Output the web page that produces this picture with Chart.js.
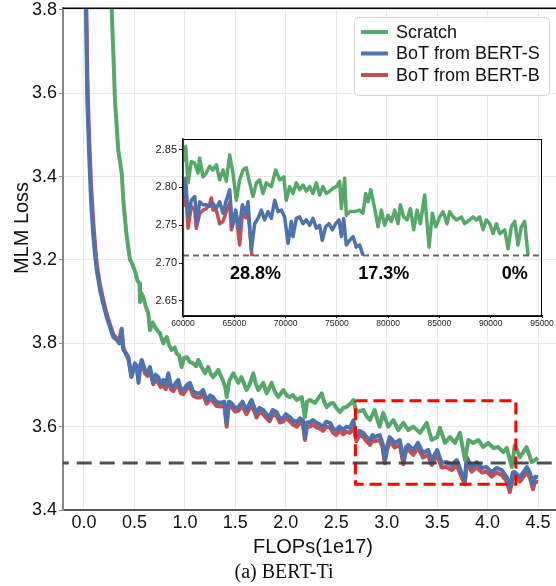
<!DOCTYPE html>
<html>
<head>
<meta charset="utf-8">
<script src="https://cdn.jsdelivr.net/npm/chart.js@4.4.1/dist/chart.umd.min.js"></script>
<style>
  html, body { margin: 0; padding: 0; background: #fff; }
  #wrap { position: relative; width: 556px; height: 586px; }
  #mainChart { position: absolute; left: 0; top: 0; }
  #insetChart { position: absolute; left: 130px; top: 132px; }
</style>
</head>
<body>
<div id="wrap">
  <canvas id="mainChart" width="556" height="586"></canvas>
  <canvas id="insetChart" width="426" height="198"></canvas>
</div>
<script>
const seriesNames = ['Scratch', 'BoT from BERT-S', 'BoT from BERT-B'];
const seriesColors = ['#55a868', '#4c72b0', '#c44e52'];

// main panel: FLOPs (1e17) vs MLM loss (axis units, labels below)
const flopsScratch = [0.26, 0.274, 0.29, 0.307, 0.34, 0.374, 0.39, 0.42, 0.456, 0.47,
  0.49, 0.51, 0.53, 0.55, 0.555, 0.57, 0.588, 0.61, 0.637, 0.654,
  0.68, 0.704, 0.73, 0.753, 0.786, 0.82, 0.845, 0.869, 0.9, 0.918,
  0.945, 0.968, 0.99, 1.018, 1.05, 1.083, 1.11, 1.133, 1.16, 1.2,
  1.23, 1.26, 1.28, 1.33, 1.37, 1.4, 1.414, 1.44, 1.48, 1.53,
  1.56, 1.61, 1.64, 1.678, 1.7, 1.727, 1.777, 1.81, 1.86, 1.89,
  1.925, 1.975, 2.01, 2.04, 2.07, 2.108, 2.158, 2.19, 2.21, 2.24,
  2.29, 2.356, 2.38, 2.405, 2.44, 2.47, 2.5, 2.537, 2.57, 2.6,
  2.65, 2.67, 2.7, 2.77, 2.8, 2.834, 2.88, 2.9, 2.93, 2.966,
  3.016, 3.066, 3.115, 3.165, 3.214, 3.264, 3.33, 3.397, 3.446, 3.5,
  3.528, 3.578, 3.627, 3.677, 3.726, 3.776, 3.81, 3.858, 3.908, 3.957,
  4.007, 4.056, 4.106, 4.156, 4.19, 4.24, 4.27, 4.32, 4.387, 4.437,
  4.47, 4.5];
const lossScratch = [4.70, 4.604, 4.503, 4.383, 4.263, 4.208, 4.143, 4.064, 4.0, 3.995,
  3.983, 3.97, 3.95, 3.944, 3.899, 3.92, 3.911, 3.89, 3.872, 3.832,
  3.85, 3.839, 3.83, 3.824, 3.8, 3.815, 3.795, 3.784, 3.79, 3.776,
  3.77, 3.743, 3.765, 3.767, 3.755, 3.752, 3.745, 3.76, 3.745, 3.728,
  3.743, 3.725, 3.719, 3.736, 3.715, 3.695, 3.671, 3.71, 3.728, 3.705,
  3.719, 3.688, 3.70, 3.728, 3.705, 3.688, 3.705, 3.68, 3.705, 3.685,
  3.671, 3.688, 3.675, 3.671, 3.676, 3.664, 3.671, 3.623, 3.66, 3.664,
  3.657, 3.68, 3.66, 3.647, 3.655, 3.657, 3.645, 3.635, 3.645, 3.647,
  3.657, 3.664, 3.635, 3.64, 3.625, 3.616, 3.64, 3.623, 3.60, 3.633,
  3.60, 3.616, 3.592, 3.609, 3.592, 3.60, 3.585, 3.609, 3.568, 3.575,
  3.597, 3.561, 3.575, 3.561, 3.585, 3.52, 3.568, 3.561, 3.568, 3.551,
  3.561, 3.549, 3.551, 3.539, 3.549, 3.503, 3.556, 3.527, 3.551, 3.515,
  3.52, 3.525];

const flopsBot = [0.015, 0.02, 0.033, 0.05, 0.07, 0.092, 0.11, 0.126, 0.159, 0.19,
  0.225, 0.258, 0.29, 0.324, 0.35, 0.373, 0.39, 0.42, 0.44, 0.47,
  0.505, 0.525, 0.54, 0.555, 0.572, 0.605, 0.63, 0.654, 0.687, 0.71,
  0.736, 0.76, 0.786, 0.81, 0.836, 0.86, 0.885, 0.91, 0.935, 0.96,
  0.984, 1.02, 1.05, 1.08, 1.117, 1.15, 1.18, 1.216, 1.25, 1.28,
  1.31, 1.35, 1.39, 1.414, 1.435, 1.46, 1.5, 1.53, 1.57, 1.61,
  1.66, 1.69, 1.71, 1.74, 1.777, 1.81, 1.84, 1.87, 1.91, 1.94,
  1.975, 2.0, 2.04, 2.07, 2.108, 2.14, 2.17, 2.19, 2.21, 2.24,
  2.27, 2.306, 2.34, 2.37, 2.4, 2.44, 2.47, 2.5, 2.53, 2.57,
  2.6, 2.636, 2.67, 2.7, 2.73, 2.77, 2.8, 2.834, 2.86, 2.88,
  2.93, 2.96, 2.98, 3.0, 3.03, 3.08, 3.13, 3.165, 3.19, 3.214,
  3.264, 3.31, 3.36, 3.41, 3.446, 3.5, 3.545, 3.594, 3.644, 3.694,
  3.743, 3.775, 3.793, 3.842, 3.892, 3.942, 3.99, 4.04, 4.09, 4.14,
  4.19, 4.22, 4.25, 4.27, 4.32, 4.37, 4.39, 4.42, 4.45, 4.47, 4.5];
const lossBotS = [4.70, 4.60, 4.38, 4.26, 4.14, 4.06, 4.01, 3.976, 3.928, 3.896,
  3.863, 3.839, 3.815, 3.808, 3.80, 3.832, 3.784, 3.775, 3.767, 3.719,
  3.752, 3.745, 3.705, 3.745, 3.76, 3.736, 3.73, 3.743, 3.705, 3.725,
  3.719, 3.705, 3.712, 3.70, 3.728, 3.70, 3.695, 3.705, 3.712, 3.69,
  3.688, 3.70, 3.705, 3.685, 3.68, 3.68, 3.688, 3.664, 3.675, 3.671,
  3.66, 3.657, 3.66, 3.609, 3.66, 3.657, 3.645, 3.647, 3.66, 3.64,
  3.664, 3.645, 3.633, 3.645, 3.64, 3.63, 3.623, 3.64, 3.635, 3.62,
  3.621, 3.63, 3.623, 3.615, 3.611, 3.62, 3.616, 3.575, 3.61, 3.611,
  3.616, 3.609, 3.605, 3.60, 3.612, 3.609, 3.595, 3.592, 3.60, 3.592,
  3.60, 3.597, 3.615, 3.575, 3.59, 3.585, 3.575, 3.568, 3.58, 3.575,
  3.58, 3.56, 3.52, 3.55, 3.575, 3.561, 3.568, 3.52, 3.55, 3.556,
  3.544, 3.561, 3.537, 3.544, 3.52, 3.544, 3.513, 3.515, 3.508, 3.52,
  3.489, 3.472, 3.527, 3.503, 3.515, 3.501, 3.503, 3.491, 3.501, 3.496,
  3.479, 3.455, 3.49, 3.491, 3.479, 3.496, 3.503, 3.489, 3.46, 3.48, 3.479];
const lossBotB = [4.75, 4.66, 4.44, 4.30, 4.18, 4.09, 4.035, 3.99, 3.94, 3.905,
  3.87, 3.845, 3.822, 3.812, 3.805, 3.835, 3.79, 3.772, 3.762, 3.722,
  3.745, 3.738, 3.712, 3.738, 3.752, 3.728, 3.722, 3.735, 3.702, 3.712,
  3.706, 3.695, 3.70, 3.69, 3.715, 3.69, 3.685, 3.695, 3.70, 3.68,
  3.678, 3.69, 3.695, 3.675, 3.67, 3.67, 3.678, 3.655, 3.665, 3.66,
  3.65, 3.648, 3.65, 3.60, 3.65, 3.648, 3.636, 3.638, 3.65, 3.63,
  3.652, 3.635, 3.622, 3.636, 3.63, 3.62, 3.613, 3.63, 3.625, 3.61,
  3.612, 3.62, 3.613, 3.605, 3.60, 3.61, 3.605, 3.568, 3.60, 3.60,
  3.606, 3.598, 3.595, 3.59, 3.60, 3.598, 3.585, 3.58, 3.59, 3.582,
  3.588, 3.585, 3.60, 3.565, 3.58, 3.575, 3.565, 3.556, 3.568, 3.565,
  3.568, 3.55, 3.512, 3.54, 3.565, 3.55, 3.556, 3.51, 3.54, 3.545,
  3.532, 3.55, 3.526, 3.532, 3.508, 3.532, 3.502, 3.503, 3.496, 3.508,
  3.478, 3.462, 3.515, 3.492, 3.503, 3.49, 3.492, 3.48, 3.49, 3.484,
  3.468, 3.443, 3.478, 3.48, 3.468, 3.484, 3.49, 3.477, 3.45, 3.468, 3.467];

const xTicks = [0, 0.5, 1, 1.5, 2, 2.5, 3, 3.5, 4, 4.5];
const yTickValues = [3.4, 3.6, 3.8, 4.0, 4.2, 4.4, 4.6];
const yTickLabels = ['3.4', '3.6', '3.8', '3.2', '3.4', '3.6', '3.8'];
const targetLoss = 3.513;
const boxFlops = [2.69, 4.28];
const boxLoss = [3.462, 3.662];

// inset: steps vs loss
const insetStepsScratch = [60000, 60260, 60490, 60810, 61140, 61460, 61620, 61950, 62270, 62600,
  62920, 63250, 63570, 63900, 64220, 64550, 64870, 65200, 65520, 65850,
  66170, 66500, 66830, 67150, 67470, 67800, 68120, 68610, 69030, 69430,
  69820, 70070, 70400, 70720, 71050, 71370, 71700, 72020, 72350, 72670,
  73000, 73320, 73650, 73970, 74300, 74620, 74950, 75270, 75440, 75760,
  75920, 76250, 76740, 77220, 77550, 77810, 78040, 78300, 78690, 79010,
  79340, 79660, 79990, 80310, 80640, 80960, 81190, 81520, 81840, 82170,
  82490, 82820, 83140, 83560, 83990, 84310, 84640, 85030, 85350, 85740,
  86000, 86330, 86650, 87140, 87460, 87950, 88280, 88600, 88930, 89250,
  89580, 89900, 90230, 90550, 90880, 91360, 91690, 92010, 92340, 92660,
  92990, 93310, 93640];
const insetLossScratch = [2.834, 2.854, 2.806, 2.834, 2.832, 2.819, 2.839, 2.814, 2.819, 2.828,
  2.823, 2.83, 2.81, 2.823, 2.808, 2.843, 2.819, 2.783, 2.81, 2.823,
  2.826, 2.806, 2.788, 2.806, 2.81, 2.792, 2.806, 2.801, 2.823, 2.81,
  2.814, 2.783, 2.801, 2.792, 2.806, 2.797, 2.803, 2.795, 2.801, 2.792,
  2.806, 2.79, 2.801, 2.792, 2.795, 2.799, 2.801, 2.808, 2.772, 2.812,
  2.763, 2.768, 2.768, 2.77, 2.766, 2.792, 2.781, 2.797, 2.772, 2.748,
  2.77, 2.75, 2.763, 2.755, 2.77, 2.752, 2.777, 2.761, 2.757, 2.772,
  2.744, 2.77, 2.752, 2.79, 2.721, 2.766, 2.748, 2.761, 2.768, 2.752,
  2.768, 2.761, 2.757, 2.761, 2.752, 2.757, 2.761, 2.757, 2.761, 2.744,
  2.757, 2.752, 2.739, 2.752, 2.739, 2.744, 2.719, 2.748, 2.755, 2.724,
  2.748, 2.755, 2.71];
const insetStepsBotS = [60000, 60260, 60490, 60810, 61140, 61370, 61620, 61950, 62270, 62600,
  62920, 63250, 63570, 63900, 64220, 64550, 64810, 65140, 65460, 65790,
  66110, 66340, 66660, 66990, 67310, 67640, 67960, 68290, 68610, 68940,
  69260, 69590, 69910, 70240, 70560, 70720, 71050, 71370, 71700, 72020,
  72350, 72670, 73000, 73320, 73580, 73910, 74230, 74560, 74880, 75210,
  75440, 75660, 75920, 76250, 76580, 76900, 77220, 77550];
const insetLossBotS = [2.786, 2.812, 2.761, 2.783, 2.788, 2.752, 2.781, 2.777, 2.777, 2.775,
  2.779, 2.772, 2.781, 2.766, 2.783, 2.797, 2.748, 2.77, 2.744, 2.777,
  2.766, 2.781, 2.717, 2.752, 2.759, 2.77, 2.757, 2.768, 2.759, 2.783,
  2.768, 2.77, 2.761, 2.726, 2.755, 2.735, 2.759, 2.761, 2.752, 2.757,
  2.75, 2.759, 2.746, 2.75, 2.73, 2.748, 2.752, 2.744, 2.752, 2.757,
  2.735, 2.759, 2.724, 2.73, 2.735, 2.721, 2.724, 2.71];
const insetStepsBotB = [60000, 60160, 60300, 60490, 60810, 61140, 61300, 61620, 61950, 62270,
  62600, 62760, 62920, 63250, 63570, 63900, 64220, 64550, 64720, 65140,
  65520, 65790, 66110, 66340, 66730];
const insetLossBotB = [2.776, 2.777, 2.79, 2.746, 2.775, 2.77, 2.746, 2.765, 2.77, 2.772,
  2.778, 2.786, 2.77, 2.77, 2.752, 2.755, 2.768, 2.78, 2.744, 2.768,
  2.724, 2.765, 2.76, 2.768, 2.709];

const insetXTicks = [60000, 65000, 70000, 75000, 80000, 85000, 90000, 95000];
const insetYTicks = [2.65, 2.70, 2.75, 2.80, 2.85];
const insetTarget = 2.71;
const savingLabels = ['28.8%', '17.3%', '0%'];
const savingSteps = [67060, 79570, 92340];
const savingLoss = 2.685;

const SANS = '"Liberation Sans", Arial, sans-serif';
const pts = (xs, ys) => xs.map((x, i) => ({ x: x, y: ys[i] }));

function roundRect(ctx, x, y, w, h, r) {
  ctx.beginPath();
  ctx.moveTo(x + r, y);
  ctx.lineTo(x + w - r, y);
  ctx.arcTo(x + w, y, x + w, y + r, r);
  ctx.lineTo(x + w, y + h - r);
  ctx.arcTo(x + w, y + h, x + w - r, y + h, r);
  ctx.lineTo(x + r, y + h);
  ctx.arcTo(x, y + h, x, y + h - r, r);
  ctx.lineTo(x, y + r);
  ctx.arcTo(x, y, x + r, y, r);
  ctx.closePath();
}

const mainExtras = {
  id: 'mainExtras',
  afterDraw(chart) {
    const ctx = chart.ctx, a = chart.chartArea;
    ctx.save();
    ctx.strokeStyle = '#000';
    ctx.lineWidth = 1.5;
    ctx.beginPath();
    ctx.moveTo(a.left, a.top);
    ctx.lineTo(a.right, a.top);
    ctx.stroke();

    ctx.fillStyle = '#111';
    ctx.textAlign = 'center';
    ctx.textBaseline = 'middle';
    ctx.font = '20px ' + SANS;
    ctx.fillText('FLOPs(1e17)', 313, 547);
    ctx.save();
    ctx.translate(22, 228);
    ctx.rotate(-Math.PI / 2);
    ctx.fillText('MLM Loss', 0, 0);
    ctx.restore();
    ctx.font = '20px "Liberation Serif", "Times New Roman", serif';
    ctx.fillText('(a) BERT-Ti', 284, 573);

    // legend
    roundRect(ctx, 354.5, 17.5, 195, 78, 4);
    ctx.fillStyle = 'rgba(255,255,255,0.9)';
    ctx.fill();
    ctx.strokeStyle = '#d4d4d4';
    ctx.lineWidth = 1;
    ctx.stroke();
    ctx.textAlign = 'left';
    ctx.font = '18px ' + SANS;
    seriesNames.forEach((name, i) => {
      const y = 32 + i * 21.5;
      ctx.strokeStyle = seriesColors[i];
      ctx.lineWidth = 4;
      ctx.beginPath();
      ctx.moveTo(361, y);
      ctx.lineTo(388, y);
      ctx.stroke();
      ctx.fillStyle = '#111';
      ctx.fillText(name, 396, y + 1);
    });
    ctx.restore();
  }
};

new Chart(document.getElementById('mainChart'), {
  type: 'line',
  data: {
    datasets: [
      { label: seriesNames[0], data: pts(flopsScratch, lossScratch), borderColor: seriesColors[0], borderWidth: 4, clip: 0 },
      { label: seriesNames[1], data: pts(flopsBot, lossBotS), borderColor: seriesColors[1], borderWidth: 4, clip: 0 },
      { label: seriesNames[2], data: pts(flopsBot, lossBotB), borderColor: seriesColors[2], borderWidth: 4, clip: 0 },
      { label: 'target', data: [{ x: -0.3, y: targetLoss }, { x: 4.8, y: targetLoss }],
        borderColor: 'rgba(60,60,60,0.9)', borderWidth: 3, borderDash: [15, 8], clip: 0, order: -1 },
      { label: 'zoom', data: [
          { x: boxFlops[0], y: boxLoss[1] }, { x: boxFlops[1], y: boxLoss[1] },
          { x: boxFlops[1], y: boxLoss[0] }, { x: boxFlops[0], y: boxLoss[0] },
          { x: boxFlops[0], y: boxLoss[1] }],
        borderColor: '#ff0000', borderWidth: 3, borderDash: [12, 6], order: -1 }
    ]
  },
  options: {
    responsive: false,
    animation: false,
    layout: { padding: { top: 8, left: 0, right: 0, bottom: 0 } },
    plugins: { legend: { display: false }, tooltip: { enabled: false } },
    elements: { point: { radius: 0 }, line: { tension: 0, borderJoinStyle: 'round' } },
    scales: {
      x: {
        type: 'linear', min: -0.208, max: 4.678,
        afterBuildTicks: s => { s.ticks = xTicks.map(v => ({ value: v })); },
        afterFit: s => { s.height = 76; },
        ticks: { callback: v => v.toFixed(1), font: { family: SANS, size: 18 }, color: '#111',
                 padding: 2, maxRotation: 0, autoSkip: false },
        grid: { color: '#e8e8e8', drawTicks: false },
        border: { color: '#555', width: 2 }
      },
      y: {
        type: 'linear', min: 3.4, max: 4.604,
        afterBuildTicks: s => { s.ticks = yTickValues.map(v => ({ value: v })); },
        afterFit: s => { s.width = 63; },
        ticks: { callback: (v, i) => yTickLabels[i], font: { family: SANS, size: 18, lineHeight: 0.7 },
                 color: '#111', padding: 2, autoSkip: false },
        grid: { color: '#e8e8e8', tickColor: '#888', tickLength: 4 },
        border: { color: '#888', width: 2 }
      }
    }
  },
  plugins: [mainExtras]
});

const insetExtras = {
  id: 'insetExtras',
  afterDraw(chart) {
    const ctx = chart.ctx, a = chart.chartArea;
    const xs = chart.scales.x, ys = chart.scales.y;
    ctx.save();
    ctx.strokeStyle = '#000';
    ctx.lineWidth = 1;
    ctx.strokeRect(a.left, a.top + 0.5, a.right - a.left - 0.5, a.bottom - a.top);
    ctx.fillStyle = '#000';
    ctx.font = 'bold 18px ' + SANS;
    ctx.textAlign = 'center';
    ctx.textBaseline = 'middle';
    savingLabels.forEach((t, i) => {
      ctx.fillText(t, xs.getPixelForValue(savingSteps[i]), ys.getPixelForValue(savingLoss));
    });
    ctx.restore();
  }
};

new Chart(document.getElementById('insetChart'), {
  type: 'line',
  data: {
    datasets: [
      { label: seriesNames[0], data: pts(insetStepsScratch, insetLossScratch), borderColor: seriesColors[0], borderWidth: 3.5 },
      { label: seriesNames[1], data: pts(insetStepsBotS, insetLossBotS), borderColor: seriesColors[1], borderWidth: 3.5 },
      { label: seriesNames[2], data: pts(insetStepsBotB, insetLossBotB), borderColor: seriesColors[2], borderWidth: 3.5 },
      { label: 'target', data: [{ x: 60000, y: insetTarget }, { x: 95000, y: insetTarget }],
        borderColor: '#666', borderWidth: 2, borderDash: [6, 4], order: -1 }
    ]
  },
  options: {
    responsive: false,
    animation: false,
    layout: { padding: { top: 7, left: 0, right: 14, bottom: 0 } },
    plugins: { legend: { display: false }, tooltip: { enabled: false } },
    elements: { point: { radius: 0 }, line: { tension: 0, borderJoinStyle: 'round' } },
    scales: {
      x: {
        type: 'linear', min: 60000, max: 95000,
        afterBuildTicks: s => { s.ticks = insetXTicks.map(v => ({ value: v })); },
        afterFit: s => { s.height = 14; },
        ticks: { callback: v => String(v), font: { family: SANS, size: 8.5 }, color: '#222',
                 padding: 1, maxRotation: 0, autoSkip: false },
        grid: { drawOnChartArea: false, tickLength: 2, tickColor: '#222' },
        border: { color: '#222', width: 1.5 }
      },
      y: {
        type: 'linear', min: 2.63, max: 2.864,
        afterBuildTicks: s => { s.ticks = insetYTicks.map(v => ({ value: v })); },
        afterFit: s => { s.width = 53; },
        ticks: { callback: v => v.toFixed(2), font: { family: SANS, size: 11, lineHeight: 0.9 },
                 color: '#222', padding: 2, autoSkip: false },
        grid: { drawOnChartArea: false, tickLength: 4, tickColor: '#222' },
        border: { color: '#222', width: 1.5 }
      }
    }
  },
  plugins: [insetExtras]
});
</script>
</body>
</html>
